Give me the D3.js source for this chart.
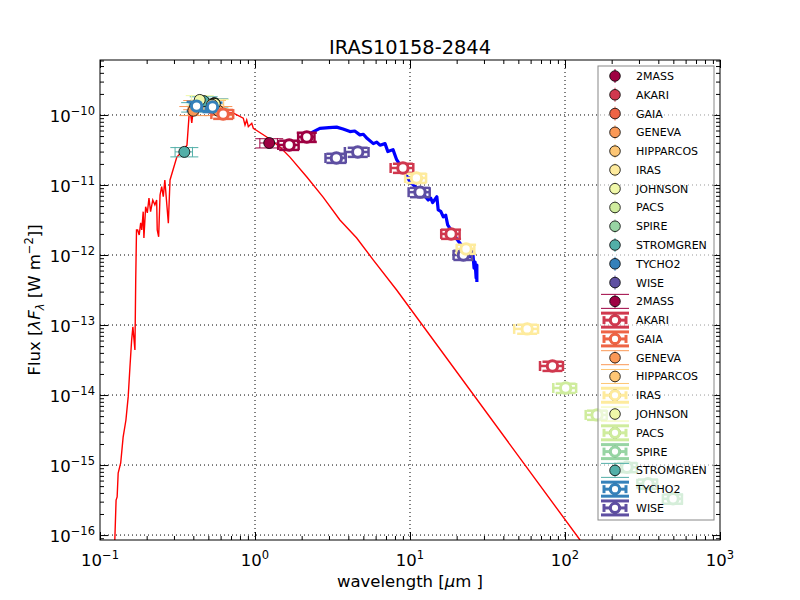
<!DOCTYPE html>
<html lang="en">
<head>
<meta charset="UTF-8">
<title>IRAS10158-2844 SED</title>
<script src="https://d3js.org/d3.v7.min.js"></script>
<style>
  body { margin: 0; background: #fff; }
  svg { display: block; font-family: 'DejaVu Sans', sans-serif; }
  .grid line { stroke: #000; stroke-width: 1; stroke-dasharray: 1 3; }
  .axis path { display: none; }
  .axis line { stroke: #000; stroke-width: 1; }
</style>
</head>
<body>
<svg width="800" height="600"></svg>
<script>
// photometric systems and their colours (legend order)
const systems = ["2MASS", "AKARI", "GAIA", "GENEVA", "HIPPARCOS", "IRAS", "JOHNSON",
                 "PACS", "SPIRE", "STROMGREN", "TYCHO2", "WISE"];
const systemColors = ["#9e0142", "#d0384e", "#ee6445", "#fa9856", "#fdc675", "#feeb9d",
                      "#f0f8a9", "#cfec9d", "#98d5a4", "#52afa8", "#3581ba", "#5e4fa2"];
// second legend block: true = open marker with heavy error bars
const legendOpen = [false, true, true, false, false, true, false, true, true, false, true, true];

// photometry (wavelength in micron, flux in W m-2)
const photSystem = ["STROMGREN", "STROMGREN", "STROMGREN", "STROMGREN",
  "GENEVA", "GENEVA", "GENEVA", "GENEVA", "JOHNSON", "JOHNSON", "HIPPARCOS",
  "TYCHO2", "TYCHO2", "GAIA", "2MASS", "2MASS", "2MASS",
  "WISE", "WISE", "WISE", "WISE", "AKARI", "AKARI", "AKARI",
  "IRAS", "IRAS", "IRAS", "PACS", "PACS", "SPIRE", "SPIRE", "SPIRE"];
const photWave = [0.350, 0.411, 0.467, 0.547,
  0.400, 0.424, 0.540, 0.580, 0.440, 0.550, 0.528,
  0.420, 0.532, 0.623, 1.235, 1.662, 2.159,
  3.35, 4.60, 11.6, 22.1, 9.0, 18.4, 83,
  11.0, 23.0, 57, 101, 161, 251, 343, 498];
const photFlux = [2.97e-11, 1.30e-10, 1.58e-10, 1.48e-10,
  1.15e-10, 1.40e-10, 1.45e-10, 1.15e-10, 1.64e-10, 1.44e-10, 1.40e-10,
  1.34e-10, 1.30e-10, 1.03e-10, 3.98e-11, 3.73e-11, 4.85e-11,
  2.43e-11, 2.96e-11, 7.9e-12, 1.0e-12, 1.75e-11, 2.0e-12, 2.6e-14,
  1.26e-11, 1.22e-12, 8.8e-14, 1.26e-14, 5.2e-15, 9.3e-16, 5.4e-16, 3.3e-16];
const photWaveErr = [0.045, 0.035, 0.030, 0.035,
  0.030, 0.040, 0.040, 0.050, 0.050, 0.045, 0.100,
  0.035, 0.050, 0.100, 0.16, 0.25, 0.26,
  0.5, 0.8, 1.8, 3.0, 1.5, 2.5, 14,
  1.7, 3.0, 10, 17, 25, 40, 50, 70];
const photFluxErr = [4.5e-12, 2.0e-11, 2.4e-11, 2.2e-11,
  1.7e-11, 2.1e-11, 2.2e-11, 1.7e-11, 2.5e-11, 2.2e-11, 2.1e-11,
  2.0e-11, 2.0e-11, 1.5e-11, 6.0e-12, 5.6e-12, 7.3e-12,
  3.6e-12, 4.4e-12, 1.2e-12, 1.5e-13, 2.6e-12, 3.0e-13, 3.9e-15,
  1.9e-12, 1.8e-13, 1.3e-14, 1.9e-15, 7.8e-16, 1.4e-16, 8.1e-17, 5.0e-17];
const photOpen = [false, false, false, false,
  false, false, false, false, false, false, false,
  true, true, true, false, true, true,
  true, true, true, true, true, true, true,
  true, true, true, true, true, true, true, true];

// model spectrum (red)
const modelWave = [0.124, 0.127, 0.129, 0.131, 0.136, 0.141, 0.147, 0.152, 0.156, 0.160,
  0.163, 0.168, 0.170, 0.172, 0.175, 0.179, 0.183, 0.186, 0.190, 0.192,
  0.197, 0.202, 0.207, 0.212, 0.219, 0.226, 0.232, 0.234, 0.239, 0.244,
  0.250, 0.256, 0.262, 0.276, 0.283, 0.313, 0.337, 0.364, 0.375, 0.381,
  0.391, 0.398, 0.442, 0.513, 0.722, 0.840, 0.862, 0.884, 0.906, 0.953,
  0.975, 1.19, 1.45, 1.68, 2.16, 2.75, 3.53, 4.53, 5.77, 8.2, 125];
const modelFlux = [6e-17, 3.16e-16, 3.5e-16, 7.7e-16, 1.07e-15, 2.5e-15, 4.4e-15, 9.4e-15, 2.5e-14, 6.1e-14,
  9.4e-14, 4.4e-14, 4.4e-13, 2.28e-12, 2.28e-12, 1.93e-12, 2.87e-12, 2.28e-12, 4.16e-12, 1.75e-12,
  4.9e-12, 4.0e-12, 6.5e-12, 4.16e-12, 6.1e-12, 5.2e-12, 6.1e-12, 2.28e-12, 1.82e-12, 7.2e-12,
  9.5e-12, 6.8e-12, 1.18e-11, 2.84e-12, 1.18e-11, 2.5e-11, 2.96e-11, 3.7e-11, 9.4e-11, 1.18e-10,
  7.7e-11, 1.1e-10, 1.18e-10, 1.07e-10, 1.07e-10, 9.0e-11, 7.2e-11, 8.5e-11, 6.8e-11, 7.6e-11,
  6.45e-11, 4.85e-11, 3.5e-11, 2.5e-11, 1.3e-11, 6.7e-12, 3.16e-12, 1.75e-12, 8.6e-13, 3.16e-13, 8.5e-17];

// observed infrared spectrum (blue)
const specWave = [2.2, 2.32, 2.62, 3.0, 3.36, 3.7, 4.1, 4.4, 4.75, 5.0, 5.3, 5.8, 6.1, 6.4, 6.9,
  7.2, 7.77, 8.2, 9.06, 10, 10.8, 11.6, 12.3, 13.1, 13.6, 14.0, 14.9, 15.2, 15.8, 16.4,
  17.0, 17.5, 19.0, 20, 21, 22.5, 24.4, 25.5, 25.9, 26.3, 26.7, 27.0, 27.0];
const specFlux = [5.3e-11, 5.6e-11, 6.45e-11, 6.6e-11, 6.7e-11, 6.3e-11, 5.8e-11, 5.9e-11, 5.2e-11, 5.3e-11,
  4.6e-11, 3.9e-11, 4.1e-11, 3.7e-11, 3.9e-11, 3.0e-11, 3.2e-11, 2.3e-11, 1.64e-11, 1.11e-11,
  9.5e-12, 8.0e-12, 7.2e-12, 6.1e-12, 6.5e-12, 5.6e-12, 6.8e-12, 4.4e-12, 4.2e-12, 3.5e-12,
  3.7e-12, 2.7e-12, 2.04e-12, 1.7e-12, 1.47e-12, 1.2e-12, 9.5e-13, 1.0e-12, 6.5e-13, 7.9e-13,
  4.7e-13, 7.2e-13, 4.1e-13];

const xMajor = [0.1, 1, 10, 100, 1000];
const xExp = ["−1", "0", "1", "2", "3"];
const yMajor = [1e-16, 1e-15, 1e-14, 1e-13, 1e-12, 1e-11, 1e-10];
const yExp = ["−16", "−15", "−14", "−13", "−12", "−11", "−10"];

const svg = d3.select("svg"),
      margin = {top: 60, right: 80, bottom: 60, left: 100},
      width = +svg.attr("width") - margin.left - margin.right,
      height = +svg.attr("height") - margin.top - margin.bottom,
      g = svg.append("g").attr("transform", `translate(${margin.left},${margin.top})`);

const x = d3.scaleLog().domain([0.1, 1000]).range([0, width]);
const y = d3.scaleLog().domain([8.5e-17, 6.1e-10]).range([height, 0]);
const color = d3.scaleOrdinal(systems, systemColors);

svg.append("defs").append("clipPath").attr("id", "plot-clip")
  .append("rect").attr("width", width).attr("height", height);

// minor ticks: 2..9 within each decade
const minorOf = (scale) => {
  const [a, b] = scale.domain();
  const out = [];
  for (let e = Math.floor(Math.log10(a)); e <= Math.ceil(Math.log10(b)); e++)
    for (let k = 2; k <= 9; k++) {
      const v = k * Math.pow(10, e);
      if (v > a && v < b) out.push(v);
    }
  return out;
};

// grid
const grid = g.append("g").attr("class", "grid");
grid.selectAll(".gx").data(xMajor.slice(1, -1)).join("line")
  .attr("x1", d => x(d)).attr("x2", d => x(d)).attr("y1", 0).attr("y2", height);
grid.selectAll(".gy").data(yMajor).join("line")
  .attr("y1", d => y(d)).attr("y2", d => y(d)).attr("x1", 0).attr("x2", width);

// ticks on all four sides, pointing inward
const axes = [
  [d3.axisBottom, x, `translate(0,${height})`],
  [d3.axisTop, x, "translate(0,0)"],
  [d3.axisLeft, y, "translate(0,0)"],
  [d3.axisRight, y, `translate(${width},0)`]
];
axes.forEach(([ax, sc, tr]) => {
  const major = sc === x ? xMajor : yMajor;
  g.append("g").attr("class", "axis").attr("transform", tr)
    .call(ax(sc).tickValues(major).tickSize(-8).tickFormat(""));
  g.append("g").attr("class", "axis").attr("transform", tr)
    .call(ax(sc).tickValues(minorOf(sc)).tickSize(-4).tickFormat(""));
});

// model and spectrum
const plot = g.append("g").attr("clip-path", "url(#plot-clip)");
const line = d3.line().x(d => x(d[0])).y(d => y(d[1]));

plot.append("path")
  .datum(d3.zip(modelWave, modelFlux))
  .attr("fill", "none")
  .attr("stroke", "#ff0000")
  .attr("stroke-width", 1.4)
  .attr("d", line);

plot.append("path")
  .datum(d3.zip(specWave, specFlux))
  .attr("fill", "none")
  .attr("stroke", "#0000ff")
  .attr("stroke-width", 3.2)
  .attr("stroke-linejoin", "round")
  .attr("d", line);

// photometry
const phot = photWave.map((w, i) => ({
  sys: photSystem[i], w, f: photFlux[i], we: photWaveErr[i], fe: photFluxErr[i], open: photOpen[i]
}));

const bars = plot.append("g");
phot.forEach(p => {
  const c = color(p.sys), sw = p.open ? 2.5 : 1, cap = p.open ? 10 : 14;
  const cx = x(p.w), cy = y(p.f);
  const segs = [
    [x(p.w - p.we), cy, x(p.w + p.we), cy],
    [x(p.w - p.we), cy - 5, x(p.w - p.we), cy + 5],
    [x(p.w + p.we), cy - 5, x(p.w + p.we), cy + 5],
    [cx, y(p.f - p.fe), cx, y(p.f + p.fe)],
    [cx - cap, y(p.f - p.fe), cx + cap, y(p.f - p.fe)],
    [cx - cap, y(p.f + p.fe), cx + cap, y(p.f + p.fe)]
  ];
  bars.selectAll(null).data(segs).join("line")
    .attr("x1", d => d[0]).attr("y1", d => d[1])
    .attr("x2", d => d[2]).attr("y2", d => d[3])
    .attr("stroke", c).attr("stroke-width", sw);
});

plot.append("g").selectAll("circle").data(phot).join("circle")
  .attr("cx", d => x(d.w)).attr("cy", d => y(d.f)).attr("r", 5.5)
  .attr("fill", d => color(d.sys)).attr("stroke", "#000").attr("stroke-width", 0.8);

plot.append("g").selectAll("circle").data(phot.filter(d => d.open)).join("circle")
  .attr("cx", d => x(d.w)).attr("cy", d => y(d.f)).attr("r", 5.2)
  .attr("fill", "#fff").attr("stroke", d => color(d.sys)).attr("stroke-width", 3);

// frame
g.append("rect").attr("width", width).attr("height", height)
  .attr("fill", "none").attr("stroke", "#000").attr("stroke-width", 1);

// tick labels
const xl = g.append("g").attr("font-size", 16.5);
xMajor.forEach((v, i) => {
  const t = xl.append("text").attr("x", x(v)).attr("y", height + 26).attr("text-anchor", "middle");
  t.append("tspan").text("10");
  t.append("tspan").attr("dy", -7).attr("font-size", 11.5).text(xExp[i]);
});
const yl = g.append("g").attr("font-size", 16.5);
yMajor.forEach((v, i) => {
  const t = yl.append("text").attr("x", -5).attr("y", y(v) + 7).attr("text-anchor", "end");
  t.append("tspan").text("10");
  t.append("tspan").attr("dy", -7).attr("font-size", 11.5).text(yExp[i]);
});

// legend
const rowH = 18.78;
const legend = svg.append("g").attr("transform", "translate(598,66)");
legend.append("rect").attr("width", 116).attr("height", 454)
  .attr("fill", "#fff").attr("fill-opacity", 0.6)
  .attr("stroke", "#888").attr("stroke-width", 1);

const entries = systems.map((s, i) => ({s, block: 1, open: false, row: i}))
  .concat(systems.map((s, i) => ({s, block: 2, open: legendOpen[i], row: i + 12})));

entries.forEach(e => {
  const c = color(e.s);
  const row = legend.append("g").attr("transform", `translate(17,${10 + e.row * rowH})`);
  const seg = (x1, y1, x2, y2, w) => row.append("line")
    .attr("x1", x1).attr("y1", y1).attr("x2", x2).attr("y2", y2)
    .attr("stroke", c).attr("stroke-width", w);
  if (e.block === 1) {
    seg(0, -7, 0, 7, 1);
    row.append("circle").attr("r", 5.3).attr("fill", c).attr("stroke", "#000").attr("stroke-width", 0.8);
  } else if (!e.open) {
    seg(-14, -7, 14, -7, 1);
    seg(-14, 7, 14, 7, 1);
    seg(0, -7, 0, 7, 1);
    row.append("circle").attr("r", 5.3).attr("fill", c).attr("stroke", "#000").attr("stroke-width", 0.8);
  } else {
    seg(-14, -7, 14, -7, 3);
    seg(-14, 7, 14, 7, 3);
    seg(-12, 0, 12, 0, 3);
    seg(-11, -4, -11, 4, 3);
    seg(11, -4, 11, 4, 3);
    row.append("circle").attr("r", 5.3).attr("fill", c).attr("stroke", "#000").attr("stroke-width", 0.8);
    row.append("circle").attr("r", 4.6).attr("fill", "#fff").attr("stroke", c).attr("stroke-width", 3);
  }
  row.append("text").attr("x", 21).attr("y", 4).attr("font-size", 11).text(e.s);
});

// title and axis labels
svg.append("text").attr("x", margin.left + width / 2).attr("y", 54)
  .attr("text-anchor", "middle").attr("font-size", 19.4).text("IRAS10158-2844");

const xt = svg.append("text").attr("x", margin.left + width / 2).attr("y", 587)
  .attr("text-anchor", "middle").attr("font-size", 16.5);
xt.append("tspan").text("wavelength [");
xt.append("tspan").attr("font-style", "italic").text("μ");
xt.append("tspan").text("m ]");

const yt = svg.append("text").attr("transform", "translate(40,300) rotate(-90)")
  .attr("text-anchor", "middle").attr("font-size", 16.5);
yt.append("tspan").text("Flux [");
yt.append("tspan").attr("font-style", "italic").text("λF");
yt.append("tspan").attr("font-style", "italic").attr("dy", 4).attr("font-size", 11.5).text("λ");
yt.append("tspan").attr("dy", -4).text(" [W  m");
yt.append("tspan").attr("dy", -7).attr("font-size", 11.5).text("−2");
yt.append("tspan").attr("dy", 7).text("]]");
</script>
</body>
</html>
